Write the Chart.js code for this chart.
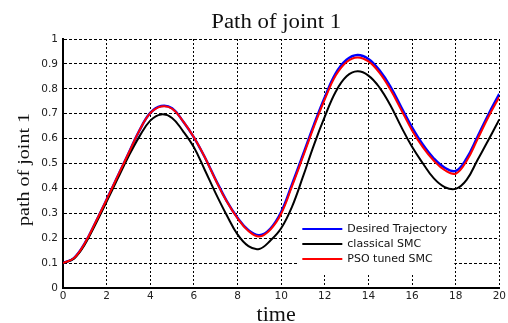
<!DOCTYPE html>
<html>
<head>
<meta charset="utf-8">
<script src="https://cdn.jsdelivr.net/npm/chart.js@4/dist/chart.umd.min.js"></script>
<style>
  html, body { margin: 0; padding: 0; background: #fff; }
  canvas { display: block; }
</style>
</head>
<body>
<canvas id="c" width="508" height="323"></canvas>
<script>
const TITLE = "Path of joint 1";
const X_LABEL = "time";
const Y_LABEL = "path of joint 1";
const SERIES_NAMES = ["Desired Trajectory", "classical SMC", "PSO tuned SMC"];
const X_TICKS = [0, 2, 4, 6, 8, 10, 12, 14, 16, 18, 20];
const Y_TICKS = [0, 0.1, 0.2, 0.3, 0.4, 0.5, 0.6, 0.7, 0.8, 0.9, 1];

const TIME = [0, 0.5, 1, 1.5, 2, 2.5, 3, 3.5, 4, 4.5, 5, 5.5, 6, 6.5, 7, 7.5, 8, 8.5, 9, 9.5,
              10, 10.5, 11, 11.5, 12, 12.5, 13, 13.5, 14, 14.5, 15, 15.5, 16, 16.5, 17, 17.5, 18, 18.5, 19, 19.5, 20];

const DESIRED = [0.100, 0.120, 0.180, 0.265, 0.355, 0.448, 0.540, 0.632, 0.703, 0.731,
                 0.722, 0.670, 0.605, 0.525, 0.435, 0.350, 0.282, 0.232, 0.212, 0.238,
                 0.305, 0.417, 0.535, 0.655, 0.766, 0.862, 0.917, 0.936, 0.920, 0.875,
                 0.810, 0.727, 0.645, 0.575, 0.520, 0.483, 0.470, 0.520, 0.607, 0.697, 0.780];

const CLASSICAL = [0.100, 0.118, 0.175, 0.258, 0.347, 0.438, 0.528, 0.608, 0.672, 0.697,
                   0.683, 0.630, 0.565, 0.474, 0.380, 0.293, 0.215, 0.168, 0.157, 0.190,
                   0.240, 0.327, 0.447, 0.574, 0.688, 0.788, 0.850, 0.870, 0.853, 0.806,
                   0.735, 0.648, 0.567, 0.500, 0.440, 0.405, 0.398, 0.434, 0.514, 0.594, 0.677];

const PSO = [0.100, 0.120, 0.180, 0.265, 0.355, 0.448, 0.540, 0.632, 0.702, 0.729,
             0.720, 0.670, 0.605, 0.525, 0.433, 0.348, 0.280, 0.229, 0.207, 0.234,
             0.298, 0.409, 0.527, 0.647, 0.758, 0.853, 0.908, 0.926, 0.910, 0.865,
             0.798, 0.716, 0.633, 0.565, 0.511, 0.473, 0.459, 0.510, 0.597, 0.687, 0.767];

const COLORS = ["#0000ff", "#000000", "#ff0000"];

function pts(ys) { return TIME.map((t, i) => ({ x: t, y: ys[i] })); }

const textPlugin = {
  id: 'textPlugin',
  afterDraw(chart) {
    const ctx = chart.ctx;
    const ca = chart.chartArea;
    const cx = (ca.left + ca.right) / 2 - 5;
    ctx.save();
    ctx.fillStyle = '#111';
    ctx.font = '20px "Liberation Serif"';
    ctx.textAlign = 'center';
    ctx.textBaseline = 'alphabetic';
    ctx.save();
    ctx.translate(cx, 27.5);
    ctx.scale(1.14, 1);
    ctx.fillText(TITLE, 0, 0);
    ctx.restore();
    ctx.save();
    ctx.font = '20px "Liberation Serif"';
    ctx.translate(cx, 321);
    ctx.scale(1.1, 1);
    ctx.fillText(X_LABEL, 0, 0);
    ctx.restore();
    ctx.save();
    ctx.font = '17px "Liberation Serif"';
    ctx.translate(29, (ca.top + ca.bottom) / 2 + 6);
    ctx.rotate(-Math.PI / 2);
    ctx.scale(1.18, 1);
    ctx.fillText(Y_LABEL, 0, 0);
    ctx.restore();

    const bx = ca.right - 202, by = ca.bottom - 71, bw = 157, bh = 57;
    ctx.fillStyle = '#fff';
    ctx.fillRect(bx, by, bw, bh);
    ctx.font = '11px "DejaVu Sans"';
    ctx.textAlign = 'left';
    ctx.textBaseline = 'middle';
    chart.data.datasets.forEach((ds, i) => {
      const y = by + 12 + i * 15;
      ctx.strokeStyle = ds.borderColor;
      ctx.lineWidth = 2;
      ctx.beginPath();
      ctx.moveTo(bx + 5, y);
      ctx.lineTo(bx + 45, y);
      ctx.stroke();
      ctx.fillStyle = '#111';
      ctx.fillText(ds.label, bx + 50, y + 0.5);
    });
    ctx.restore();
  }
};

new Chart(document.getElementById('c'), {
  type: 'line',
  data: {
    datasets: [
      { label: SERIES_NAMES[0], data: pts(DESIRED), borderColor: COLORS[0], borderWidth: 2.5, order: 3 },
      { label: SERIES_NAMES[1], data: pts(CLASSICAL), borderColor: COLORS[1], borderWidth: 2, order: 2 },
      { label: SERIES_NAMES[2], data: pts(PSO), borderColor: COLORS[2], borderWidth: 2, order: 1 }
    ].map(d => Object.assign(d, { pointRadius: 0, fill: false, tension: 0.4 }))
  },
  options: {
    responsive: false,
    animation: false,
    devicePixelRatio: 1,
    layout: { padding: { left: 0, right: 6, top: 39, bottom: 0 } },
    plugins: { legend: { display: false }, title: { display: false }, tooltip: { enabled: false } },
    scales: {
      x: {
        type: 'linear', min: X_TICKS[0], max: X_TICKS[X_TICKS.length - 1],
        afterBuildTicks(s) { s.ticks = X_TICKS.map(v => ({ value: v })); },
        ticks: { color: '#222', font: { family: 'DejaVu Sans', size: 10.5 }, padding: 2, maxRotation: 0, autoSkip: false },
        grid: { color: '#000', lineWidth: 1, drawTicks: false },
        border: { display: true, color: '#000', width: 2, dash: [2, 2] },
        afterFit(s) { s.height = 35; }
      },
      y: {
        type: 'linear', min: Y_TICKS[0], max: Y_TICKS[Y_TICKS.length - 1],
        afterBuildTicks(s) { s.ticks = Y_TICKS.map(v => ({ value: v })); },
        ticks: { color: '#222', font: { family: 'DejaVu Sans', size: 10.5 }, padding: 5, autoSkip: false,
                 callback: v => String(Math.round(v * 10) / 10) },
        grid: { color: '#000', lineWidth: 1, drawTicks: false },
        border: { display: true, color: '#000', width: 2, dash: [3, 2] },
        afterFit(s) { s.width = 63; }
      }
    }
  },
  plugins: [textPlugin]
});
</script>
</body>
</html>
